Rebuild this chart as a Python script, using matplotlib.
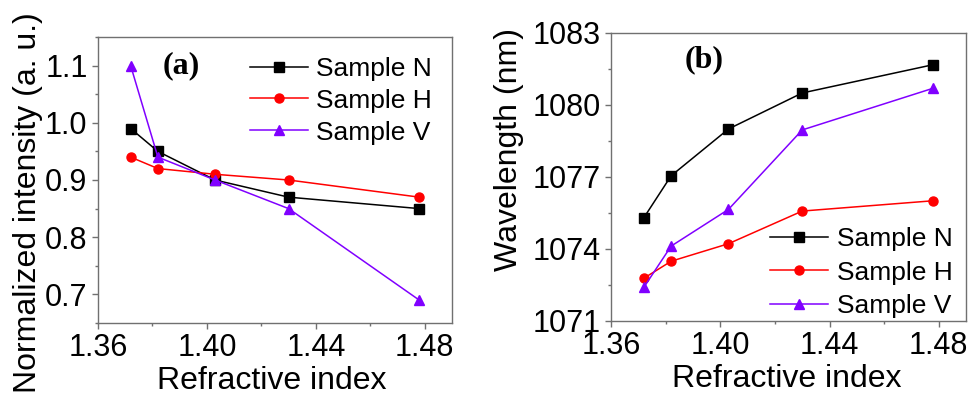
import matplotlib
matplotlib.use("Agg")
import matplotlib.pyplot as plt
from matplotlib.ticker import MultipleLocator

# refractive index of the surrounding medium
ri = [1.372, 1.382, 1.403, 1.430, 1.478]

# (a) normalized intensity
int_n = [0.99, 0.95, 0.90, 0.87, 0.85]
int_h = [0.94, 0.92, 0.91, 0.90, 0.87]
int_v = [1.10, 0.94, 0.90, 0.85, 0.69]

# (b) peak wavelength, nm
wl_n = [1075.3, 1077.05, 1079.0, 1080.5, 1081.68]
wl_h = [1072.78, 1073.49, 1074.22, 1075.58, 1076.01]
wl_v = [1072.4, 1074.12, 1075.65, 1078.96, 1080.7]

labels = ["Sample N", "Sample H", "Sample V"]
colors = ["black", "#ff0000", "#8000ff"]
markers = ["s", "o", "^"]

plt.rcParams["font.family"] = ["Liberation Sans", "DejaVu Sans"]

fig = plt.figure(figsize=(9.73, 3.94), dpi=100)
ax1 = fig.add_axes([0.1007, 0.1802, 0.3638, 0.7259])
ax2 = fig.add_axes([0.628, 0.1853, 0.3649, 0.731])

SPINE = "#707070"


def style_axes(ax):
    for s in ax.spines.values():
        s.set_color(SPINE)
        s.set_linewidth(1.0)
    ax.tick_params(which="both", direction="out", color=SPINE, top=False, right=False,
                   labelsize=22, pad=3)
    ax.tick_params(which="major", length=4.5, width=1.0)
    ax.tick_params(which="minor", length=2.5, width=1.0)
    ax.set_xlim(1.36, 1.49)
    ax.set_xticks([1.36, 1.40, 1.44, 1.48])
    ax.set_xticklabels(["1.36", "1.40", "1.44", "1.48"])
    ax.xaxis.set_minor_locator(MultipleLocator(0.02))
    ax.set_xlabel("Refractive index", fontsize=23)


def draw(ax, series):
    for ys, lab, c, m in zip(series, labels, colors, markers):
        ax.plot(ri, ys, color=c, marker=m, markersize=7.5 if m == "^" else 6.5,
                linewidth=1.1, label=lab)


# ---- panel (a) ----
draw(ax1, [int_n, int_h, int_v])
style_axes(ax1)
ax1.set_ylim(0.65, 1.15)
ax1.set_yticks([0.7, 0.8, 0.9, 1.0, 1.1])
ax1.set_yticklabels(["0.7", "0.8", "0.9", "1.0", "1.1"])
ax1.yaxis.set_minor_locator(MultipleLocator(0.05))
ax1.set_ylabel("Normalized intensity (a. u.)", fontsize=23)
ax1.yaxis.set_label_coords(-0.155, 0.42)
ax1.xaxis.set_label_coords(0.49, -0.15)
ax1.text(0.234, 0.90, "(a)", transform=ax1.transAxes, fontsize=23, fontweight="bold",
         family="Liberation Serif", ha="center", va="center")
ax1.legend(loc="upper right", frameon=False, fontsize=19, handlelength=2.2,
           handletextpad=0.33, labelspacing=0.3, borderaxespad=0.35)

# ---- panel (b) ----
draw(ax2, [wl_n, wl_h, wl_v])
style_axes(ax2)
ax2.set_ylim(1071, 1083)
ax2.set_yticks([1071, 1074, 1077, 1080, 1083])
ax2.set_yticklabels(["1071", "1074", "1077", "1080", "1083"])
ax2.yaxis.set_minor_locator(MultipleLocator(1.5))
ax2.set_ylabel("Wavelength (nm)", fontsize=23)
ax2.yaxis.set_label_coords(-0.245, 0.594)
ax2.xaxis.set_label_coords(0.496, -0.15)
ax2.text(0.262, 0.906, "(b)", transform=ax2.transAxes, fontsize=23, fontweight="bold",
         family="Liberation Serif", ha="center", va="center")
ax2.legend(loc="lower right", bbox_to_anchor=(1.0, -0.035), frameon=False, fontsize=19,
           handlelength=2.2, handletextpad=0.33, labelspacing=0.35, borderaxespad=0.1)

fig.savefig("out.png", dpi=100)
